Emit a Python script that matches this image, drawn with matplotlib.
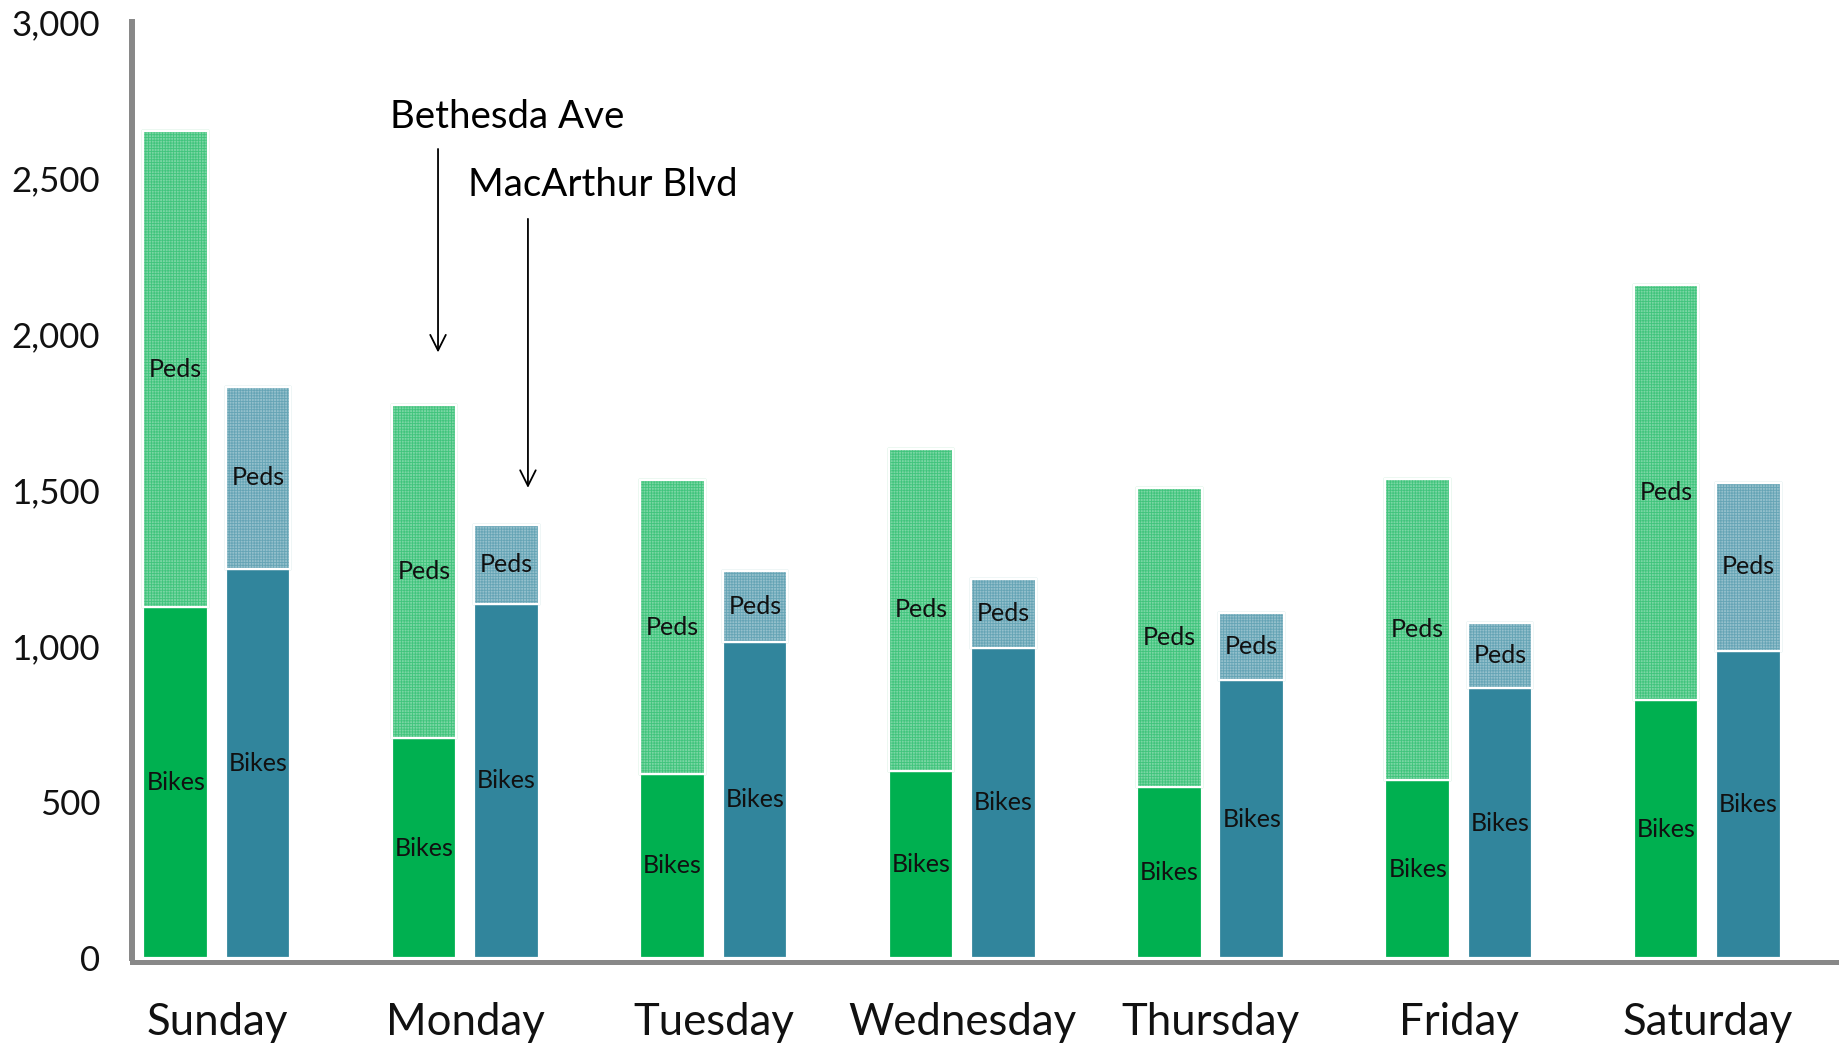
import matplotlib
matplotlib.use("Agg")
import matplotlib.pyplot as plt
import numpy as np
from matplotlib.colors import to_rgb
from matplotlib.ticker import FuncFormatter

plt.rcParams['font.family'] = ['Lato', 'DejaVu Sans']
plt.rcParams['hatch.linewidth'] = 0.6

days = ["Sunday", "Monday", "Tuesday", "Wednesday", "Thursday", "Friday", "Saturday"]
bethesda_bikes = [1125, 705, 590, 600, 547, 570, 826]
bethesda_total = [2650, 1772, 1531, 1633, 1505, 1535, 2157]
macarthur_bikes = [1248, 1135, 1014, 995, 890, 864, 984]
macarthur_total = [1829, 1388, 1241, 1214, 1105, 1075, 1523]
yticks = [0, 500, 1000, 1500, 2000, 2500, 3000]

bethesda_peds = [t - b for t, b in zip(bethesda_total, bethesda_bikes)]
macarthur_peds = [t - b for t, b in zip(macarthur_total, macarthur_bikes)]

green = "#00B050"
teal = "#31859C"


def tint(c, amount):
    r = np.array(to_rgb(c))
    return tuple(r * amount + (1 - amount))


W, H = 1843, 1044
fig = plt.figure(figsize=(W / 100, H / 100), dpi=100)
ax = fig.add_axes([132 / W, (H - 958) / H, (1836 - 132) / W, (958 - 22) / H])

x = np.arange(len(days))
bw = 0.26
off = 0.166

series = [
    (x - off, bethesda_bikes, bethesda_peds, green),
    (x + off, macarthur_bikes, macarthur_peds, teal),
]
for xs, bikes, peds, col in series:
    ax.bar(xs, bikes, width=bw, color=col, edgecolor="white", linewidth=1.6, zorder=2)
    b2 = ax.bar(xs, peds, width=bw, bottom=bikes, color=tint(col, 0.52),
                edgecolor="white", linewidth=1.6, hatch="++++++", zorder=2)
    for p in b2:
        p.set_edgecolor(tint(col, 0.75))
    # white outline drawn again so the gap between segments stays white
    ax.bar(xs, peds, width=bw, bottom=bikes, fill=False, edgecolor="white", linewidth=1.6, zorder=3)
    for xi, bv, pv in zip(xs, bikes, peds):
        ax.text(xi, bv / 2, "Bikes", ha="center", va="center", fontsize=18, color="#111111", zorder=4)
        ax.text(xi, bv + pv / 2, "Peds", ha="center", va="center", fontsize=18, color="#111111", zorder=4)

ax.set_xlim(-0.342, 6.518)
ax.set_ylim(0, 3000)
ax.set_yticks(yticks)
ax.yaxis.set_major_formatter(FuncFormatter(lambda v, p: f"{int(v):,}"))
ax.set_xticks(x)
ax.set_xticklabels(days)
ax.tick_params(axis="y", length=0, pad=23, labelsize=25, labelcolor="#111111")
ax.tick_params(axis="x", length=0, pad=29, labelsize=31.5, labelcolor="#111111")

for s in ["top", "right"]:
    ax.spines[s].set_visible(False)
ax.spines["left"].set_color("#888888")
ax.spines["left"].set_linewidth(4.3)
ax.spines["bottom"].set_color("#888888")
ax.spines["bottom"].set_linewidth(3.6)
ax.spines["bottom"].set_position(("outward", 3))

arrow = dict(arrowstyle="->", color="black", lw=1.3, mutation_scale=28)
ax.annotate("", xy=(0.890, 1932), xytext=(0.890, 2602), arrowprops=arrow)
ax.annotate("", xy=(1.252, 1498), xytext=(1.252, 2378), arrowprops=arrow)
ax.text(0.697, 2697, "Bethesda Ave", fontsize=27.7, ha="left", va="center", color="black")
ax.text(1.011, 2479, "MacArthur Blvd", fontsize=27.7, ha="left", va="center", color="black")

fig.savefig("out.png", dpi=100, facecolor="white")
